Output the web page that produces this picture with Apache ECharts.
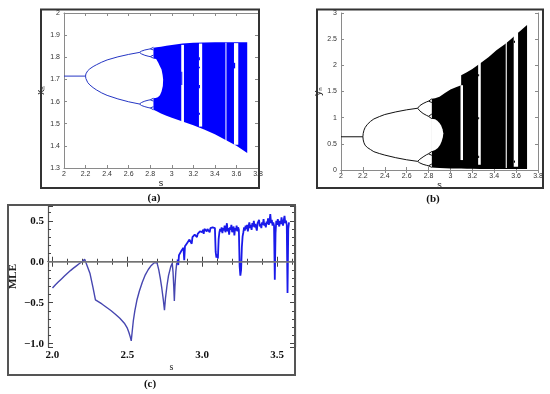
<!DOCTYPE html>
<html><head><meta charset="utf-8">
<script src="https://cdn.jsdelivr.net/npm/echarts@6/dist/echarts.min.js"></script>
<style>html,body{margin:0;padding:0;background:#fff}#c{width:550px;height:394px}</style>
</head><body><div id="c"></div>
<script>
// ---------- Panel (a): x_n bifurcation ----------
const aP1S = [2.0, 2.2], aP1Y = [1.715, 1.715];
const aP2S = [2.2, 2.203, 2.21, 2.22, 2.24, 2.27, 2.3, 2.35, 2.4, 2.5, 2.6, 2.7];
const aP2Up = [1.715, 1.725, 1.732, 1.739, 1.748, 1.758, 1.766, 1.778, 1.788, 1.802, 1.813, 1.822];
const aP2Lo = [1.715, 1.704, 1.695, 1.686, 1.675, 1.663, 1.653, 1.639, 1.628, 1.612, 1.599, 1.589];
const aP4S = [2.70, 2.72, 2.75, 2.78, 2.80];
const aP4 = [
  [1.822, 1.828, 1.833, 1.836, 1.838],
  [1.822, 1.815, 1.809, 1.805, 1.803],
  [1.589, 1.596, 1.602, 1.606, 1.608],
  [1.589, 1.582, 1.577, 1.573, 1.571]
];
const aP8S = [2.80, 2.815, 2.83];
const aP8 = [
  [1.838, 1.842, 1.845], [1.838, 1.835, 1.833], [1.803, 1.807, 1.810], [1.803, 1.799, 1.796],
  [1.608, 1.612, 1.615], [1.608, 1.604, 1.602], [1.571, 1.574, 1.577], [1.571, 1.567, 1.563]
];
const aBandS = [2.83, 2.86, 2.9, 2.95, 3.0, 3.1, 3.2, 3.3, 3.4, 3.5, 3.6, 3.7];
const aBandHi = [1.843, 1.845, 1.848, 1.852, 1.856, 1.862, 1.866, 1.867, 1.868, 1.868, 1.868, 1.868];
const aBandLo = [1.563, 1.556, 1.546, 1.536, 1.527, 1.51, 1.493, 1.474, 1.452, 1.427, 1.40, 1.368];
const aHoleS = [2.824, 2.855, 2.875, 2.89, 2.905, 2.915, 2.92, 2.917, 2.905, 2.89, 2.87, 2.85, 2.824];
const aHoleY = [1.795, 1.792, 1.775, 1.76, 1.745, 1.72, 1.70, 1.67, 1.645, 1.628, 1.62, 1.616, 1.615];
const aWinS0 = [3.088, 3.252, 3.498, 3.577];
const aWinS1 = [3.113, 3.282, 3.506, 3.617];
const aWinLo = [1.50, 1.487, 1.41, 1.405];
const aWinHi = [1.856, 1.862, 1.866, 1.864];
const aDotS0 = [3.088, 3.252, 3.252, 3.252, 3.252, 3.577];
const aDotS1 = [3.097, 3.26, 3.26, 3.26, 3.26, 3.588];
const aDotLo = [1.675, 1.787, 1.75, 1.66, 1.54, 1.75];
const aDotHi = [1.735, 1.80, 1.757, 1.675, 1.55, 1.775];

// ---------- Panel (b): y_n bifurcation ----------
const bP1S = [2.0, 2.2], bP1Y = [0.635, 0.635];
const bP2S = [2.2, 2.203, 2.21, 2.22, 2.24, 2.27, 2.3, 2.35, 2.4, 2.5, 2.6, 2.7];
const bP2Up = [0.635, 0.70, 0.76, 0.81, 0.87, 0.93, 0.975, 1.02, 1.06, 1.11, 1.15, 1.18];
const bP2Lo = [0.635, 0.575, 0.52, 0.475, 0.43, 0.39, 0.35, 0.315, 0.285, 0.235, 0.195, 0.165];
const bP4S = [2.70, 2.72, 2.75, 2.78, 2.80];
const bP4 = [
  [1.18, 1.23, 1.27, 1.30, 1.315],
  [1.18, 1.13, 1.08, 1.045, 1.025],
  [0.165, 0.205, 0.25, 0.29, 0.31],
  [0.165, 0.135, 0.108, 0.09, 0.08]
];
const bP8S = [2.80, 2.815, 2.83];
const bP8 = [
  [1.315, 1.34, 1.36], [1.315, 1.30, 1.29], [1.025, 1.05, 1.07], [1.025, 1.0, 0.98],
  [0.31, 0.335, 0.355], [0.31, 0.29, 0.28], [0.08, 0.10, 0.115], [0.08, 0.065, 0.05]
];
const bBandS = [2.83, 2.86, 2.9, 2.95, 3.0, 3.05, 3.098, 3.098, 3.15, 3.2, 3.27, 3.35, 3.42, 3.5, 3.557, 3.6, 3.65, 3.7];
const bBandHi = [1.36, 1.37, 1.40, 1.47, 1.54, 1.58, 1.62, 1.81, 1.87, 1.93, 2.035, 2.16, 2.29, 2.41, 2.51, 2.59, 2.68, 2.77];
const bBandLo = [0.05, 0.045, 0.04, 0.035, 0.03, 0.03, 0.03, 0.03, 0.025, 0.025, 0.02, 0.02, 0.02, 0.02, 0.02, 0.02, 0.02, 0.02];
const bHoleS = [2.824, 2.86, 2.88, 2.9, 2.915, 2.928, 2.935, 2.93, 2.92, 2.905, 2.885, 2.86, 2.824];
const bHoleY = [0.98, 0.97, 0.94, 0.90, 0.85, 0.78, 0.70, 0.62, 0.55, 0.48, 0.42, 0.38, 0.355];
const bWinS0 = [3.092, 3.253, 3.505, 3.578];
const bWinS1 = [3.115, 3.277, 3.515, 3.618];
const bWinLo = [0.19, 0.10, 0.04, 0.06];
const bWinHi = [1.62, 2.06, 2.45, 2.62];
const bDotS0 = [3.253, 3.253, 3.253, 3.58, 3.58];
const bDotS1 = [3.262, 3.262, 3.262, 3.59, 3.59];
const bDotLo = [1.79, 0.97, 0.23, 2.43, 0.14];
const bDotHi = [1.83, 1.01, 0.27, 2.47, 0.18];

// ---------- Panel (c): MLE ----------
const cSmoothS = [2.0, 2.02, 2.04, 2.06, 2.08, 2.1, 2.12, 2.14, 2.16, 2.18, 2.2, 2.215, 2.228, 2.25, 2.27, 2.287, 2.3, 2.33, 2.36, 2.39, 2.42, 2.45, 2.48, 2.5, 2.51, 2.52, 2.526, 2.532, 2.54, 2.55, 2.565, 2.58, 2.6, 2.62, 2.64, 2.66, 2.68, 2.698, 2.71, 2.72, 2.73, 2.74, 2.748, 2.755, 2.765, 2.775, 2.79, 2.80, 2.805, 2.81, 2.814, 2.818, 2.824, 2.83];
const cSmoothV = [-0.32, -0.28, -0.245, -0.21, -0.175, -0.14, -0.108, -0.078, -0.05, -0.022, 0.005, 0.03, 0.045, -0.14, -0.31, -0.465, -0.48, -0.515, -0.555, -0.595, -0.64, -0.69, -0.75, -0.81, -0.86, -0.92, -0.965, -0.86, -0.72, -0.6, -0.46, -0.36, -0.25, -0.16, -0.095, -0.045, -0.012, -0.01, -0.1, -0.2, -0.32, -0.46, -0.59, -0.44, -0.29, -0.17, -0.06, -0.02, -0.12, -0.3, -0.48, -0.3, -0.12, -0.01];
const cChaosS = [2.835, 2.84, 2.845, 2.85, 2.855, 2.86, 2.865, 2.87, 2.875, 2.88, 2.885, 2.89, 2.895, 2.9, 2.905, 2.91, 2.915, 2.92, 2.925, 2.93, 2.935, 2.94, 2.945, 2.95, 2.955, 2.96, 2.965, 2.97, 2.975, 2.98, 2.985, 2.99, 2.995, 3.0, 3.005, 3.01, 3.015, 3.02, 3.025, 3.03, 3.035, 3.04, 3.045, 3.05, 3.055, 3.06, 3.065, 3.07, 3.075, 3.08, 3.085, 3.09, 3.095, 3.1, 3.105, 3.11, 3.115, 3.12, 3.125, 3.13, 3.135, 3.14, 3.145, 3.15, 3.155, 3.16, 3.165, 3.17, 3.175, 3.18, 3.185, 3.19, 3.195, 3.2, 3.205, 3.21, 3.215, 3.22, 3.225, 3.23, 3.235, 3.24, 3.245, 3.25, 3.255, 3.26, 3.265, 3.27, 3.275, 3.28, 3.285, 3.29, 3.295, 3.3, 3.305, 3.31, 3.315, 3.32, 3.325, 3.33, 3.335, 3.34, 3.345, 3.35, 3.355, 3.36, 3.365, 3.37, 3.375, 3.38, 3.385, 3.39, 3.395, 3.4, 3.405, 3.41, 3.415, 3.42, 3.425, 3.43, 3.435, 3.44, 3.445, 3.45, 3.455, 3.46, 3.465, 3.47, 3.475, 3.48, 3.485, 3.49, 3.495, 3.5, 3.505, 3.51, 3.515, 3.52, 3.525, 3.53, 3.535, 3.54, 3.545, 3.55, 3.555, 3.56, 3.565, 3.57, 3.575, 3.58];
const cChaosV = [0.03, -0.04, 0.08, 0.10, 0.06, 0.13, 0.15, 0.12, 0.17, 0.02, 0.19, 0.21, 0.18, 0.23, 0.24, 0.21, 0.27, 0.26, 0.29, 0.22, 0.30, 0.31, 0.28, 0.33, 0.32, 0.35, 0.30, 0.34, 0.36, 0.33, 0.37, 0.35, 0.38, 0.36, 0.39, 0.34, 0.40, 0.38, 0.41, 0.37, 0.40, 0.39, 0.42, 0.36, 0.41, 0.43, 0.39, 0.42, 0.40, 0.44, 0.41, 0.12, 0.05, 0.09, 0.04, 0.28, 0.36, 0.40, 0.37, 0.42, 0.35, 0.41, 0.38, 0.44, 0.36, 0.40, 0.47, 0.37, 0.41, 0.33, 0.42, 0.39, 0.45, 0.36, 0.40, 0.43, 0.32, 0.41, 0.38, 0.44, 0.37, 0.42, 0.39, -0.05, -0.17, -0.10, 0.18, 0.31, 0.36, 0.42, 0.38, 0.44, 0.40, 0.45, 0.37, 0.43, 0.48, 0.41, 0.45, 0.39, 0.47, 0.43, 0.50, 0.42, 0.46, 0.44, 0.38, 0.47, 0.45, 0.51, 0.43, 0.46, 0.41, 0.48, 0.45, 0.52, 0.44, 0.47, 0.42, 0.49, 0.46, 0.53, 0.45, 0.50, 0.58, 0.47, 0.51, 0.44, 0.48, 0.44, -0.22, 0.35, 0.50, 0.45, 0.52, 0.47, 0.43, 0.50, 0.46, 0.54, 0.48, 0.44, 0.51, 0.56, 0.47, 0.50, 0.45, -0.38, 0.40, 0.48];

// ---------- helpers ----------
const zip = (xs, ys) => xs.map((x, i) => [x, ys[i]]);
function lineS(ai, s, y, color, w, z) {
  return { type: 'line', xAxisIndex: ai, yAxisIndex: ai, data: zip(s, y), showSymbol: false, symbol: 'none',
    lineStyle: { color: color, width: w }, silent: true, animation: false, z: z || 6 };
}
function bandS(ai, s, hi, lo, color) {
  return { type: 'custom', xAxisIndex: ai, yAxisIndex: ai, data: [[s[0], hi[0]]], silent: true, animation: false, z: 2,
    renderItem: function (p, api) {
      const pts = [];
      for (let i = 0; i < s.length; i++) pts.push(api.coord([s[i], hi[i]]));
      for (let i = s.length - 1; i >= 0; i--) pts.push(api.coord([s[i], lo[i]]));
      return { type: 'polygon', shape: { points: pts }, style: { fill: color } };
    } };
}
function polyS(ai, s, y, color) {
  return { type: 'custom', xAxisIndex: ai, yAxisIndex: ai, data: [[s[0], y[0]]], silent: true, animation: false, z: 3,
    renderItem: function (p, api) {
      const pts = s.map((v, i) => api.coord([v, y[i]]));
      return { type: 'polygon', shape: { points: pts }, style: { fill: color } };
    } };
}
function rectS(ai, s0, s1, lo, hi, color, z) {
  return { type: 'custom', xAxisIndex: ai, yAxisIndex: ai, silent: true, animation: false, z: z,
    data: s0.map((v, i) => [v, s1[i], lo[i], hi[i]]), encode: { x: [0, 1], y: [2, 3] },
    renderItem: function (p, api) {
      const a = api.coord([api.value(0), api.value(3)]);
      const b = api.coord([api.value(1), api.value(2)]);
      return { type: 'rect', shape: { x: a[0], y: a[1], width: Math.max(b[0] - a[0], 1), height: b[1] - a[1] }, style: { fill: color } };
    } };
}

// ---------- axes ----------
const tinyLbl = { fontSize: 7, color: '#333', fontFamily: 'Liberation Sans' };
const mLine = { show: true, lineStyle: { color: '#8a8a8a', width: 1 } };
const mTick = { show: true, inside: true, length: 3, lineStyle: { color: '#8a8a8a' } };
function mX(grid, pos, withLabel) {
  const o = { type: 'value', gridIndex: grid, position: pos, min: 2, max: 3.8, interval: 0.2,
    axisLine: mLine, axisTick: mTick, splitLine: { show: false },
    axisLabel: Object.assign({ show: withLabel, margin: 3 }, tinyLbl) };
  if (withLabel) { o.name = 's'; o.nameLocation = 'middle'; o.nameGap = 10;
    o.nameTextStyle = { fontSize: 9, color: '#222', fontFamily: 'Liberation Sans' }; }
  return o;
}
function mY(grid, pos, withLabel, mn, mx, iv, nm) {
  const o = { type: 'value', gridIndex: grid, position: pos, min: mn, max: mx, interval: iv,
    axisLine: mLine, axisTick: mTick, splitLine: { show: false },
    axisLabel: Object.assign({ show: withLabel, margin: 4 }, tinyLbl) };
  if (withLabel) { o.name = '{v|' + nm + '}{n|n}'; o.nameLocation = 'middle'; o.nameGap = 13; o.nameRotate = 90;
    o.nameTextStyle = { rich: {
      v: { fontSize: 10, color: '#222', fontFamily: 'Liberation Sans', verticalAlign: 'bottom', lineHeight: 12 },
      n: { fontSize: 6, color: '#222', fontFamily: 'Liberation Sans', verticalAlign: 'bottom', lineHeight: 8 } } }; }
  return o;
}
const isHalf = v => Math.abs(v * 2 - Math.round(v * 2)) < 1e-6;
const fmtC = v => isHalf(v) ? v.toFixed(1).replace('-', '\u2212') : '';
const cLbl = { fontFamily: 'Liberation Serif', fontWeight: 'bold', fontSize: 11, color: '#111' };
function cX(pos, withLabel) {
  const o = { type: 'value', gridIndex: 2, position: pos, min: 1.97, max: 3.62, splitNumber: 3, minInterval: 0.5, maxInterval: 0.5,
    axisLine: { show: true, lineStyle: { color: '#555', width: 1.2 } },
    axisTick: { show: true, inside: true, length: 5, lineStyle: { color: '#444' } },
    minorTick: { show: true, splitNumber: 5, length: 3, lineStyle: { color: '#444' } },
    splitLine: { show: false },
    axisLabel: Object.assign({ show: withLabel, margin: 3, formatter: fmtC }, cLbl) };
  if (withLabel) { o.name = 's'; o.nameLocation = 'middle'; o.nameGap = 15;
    o.nameTextStyle = { fontFamily: 'Liberation Serif', fontSize: 10, color: '#222' }; }
  return o;
}
function cY(pos, withLabel) {
  const o = { type: 'value', gridIndex: 2, position: pos, min: -1.04, max: 0.68, splitNumber: 3, minInterval: 0.5, maxInterval: 0.5,
    axisLine: { show: true, lineStyle: { color: '#555', width: 1.2 } },
    axisTick: { show: true, inside: true, length: 5, lineStyle: { color: '#444' } },
    minorTick: { show: true, splitNumber: 5, length: 3, lineStyle: { color: '#444' } },
    splitLine: { show: false },
    axisLabel: Object.assign({ show: withLabel, margin: 4, formatter: fmtC }, cLbl) };
  if (withLabel) { o.name = 'MLE'; o.nameLocation = 'middle'; o.nameGap = 29; o.nameRotate = 90;
    o.nameTextStyle = { fontFamily: 'Liberation Serif', fontWeight: 'bold', fontSize: 11, color: '#222' }; }
  return o;
}

// ---------- series ----------
const blueLine = '#2536c4', blackLine = '#111';
const series = [];
// (a)
series.push(bandS(0, aBandS, aBandHi, aBandLo, '#0000ff'));
series.push(polyS(0, aHoleS, aHoleY, '#ffffff'));
series.push(rectS(0, aWinS0, aWinS1, aWinLo, aWinHi, '#ffffff', 4));
series.push(rectS(0, aDotS0, aDotS1, aDotLo, aDotHi, '#0000ff', 5));
series.push(lineS(0, aP1S, aP1Y, blueLine, 1));
series.push(lineS(0, aP2S, aP2Up, blueLine, 1));
series.push(lineS(0, aP2S, aP2Lo, blueLine, 1));
aP4.forEach(y => series.push(lineS(0, aP4S, y, blueLine, 1)));
aP8.forEach(y => series.push(lineS(0, aP8S, y, blueLine, 1)));
// (b)
series.push(bandS(2, bBandS, bBandHi, bBandLo, '#000000'));
series.push(polyS(2, bHoleS, bHoleY, '#ffffff'));
series.push(rectS(2, bWinS0, bWinS1, bWinLo, bWinHi, '#ffffff', 4));
series.push(rectS(2, bDotS0, bDotS1, bDotLo, bDotHi, '#000000', 5));
series.push(lineS(2, bP1S, bP1Y, blackLine, 1));
series.push(lineS(2, bP2S, bP2Up, blackLine, 1));
series.push(lineS(2, bP2S, bP2Lo, blackLine, 1));
bP4.forEach(y => series.push(lineS(2, bP4S, y, blackLine, 1)));
bP8.forEach(y => series.push(lineS(2, bP8S, y, blackLine, 1)));
// (c)
const smooth = lineS(4, cSmoothS, cSmoothV, '#4646b0', 1.4, 3);
smooth.markLine = { silent: true, symbol: ['none', 'none'], label: { show: false }, animation: false,
  lineStyle: { color: '#7c7c7c', width: 1.6, type: 'solid' }, data: [{ yAxis: 0 }] };
series.push(smooth);
series.push(lineS(4, cChaosS, cChaosV, '#1a1aea', 1.8, 4));

const capStyle = { fontFamily: 'Liberation Serif', fontWeight: 'bold', fontSize: 11, fill: '#111', align: 'center', verticalAlign: 'middle' };
const option = {
  animation: false,
  backgroundColor: '#ffffff',
  grid: [
    { left: 64, top: 13, right: 292, bottom: 226 },
    { left: 341, top: 13, right: 12, bottom: 224 },
    { left: 48, top: 206, right: 255, bottom: 47 }
  ],
  xAxis: [mX(0, 'bottom', true), mX(0, 'top', false), mX(1, 'bottom', true), mX(1, 'top', false), cX('bottom', true), cX('top', false)],
  yAxis: [mY(0, 'left', true, 1.3, 2, 0.1, 'x'), mY(0, 'right', false, 1.3, 2, 0.1, 'x'),
          mY(1, 'left', true, 0, 3, 0.5, 'y'), mY(1, 'right', false, 0, 3, 0.5, 'y'),
          cY('left', true), cY('right', false)],
  series: series,
  graphic: [
    { type: 'rect', silent: true, z: 100, shape: { x: 41, y: 9.5, width: 218, height: 178.5 }, style: { fill: null, stroke: '#333', lineWidth: 2 } },
    { type: 'rect', silent: true, z: 100, shape: { x: 317, y: 9.5, width: 226, height: 178.5 }, style: { fill: null, stroke: '#333', lineWidth: 2 } },
    { type: 'rect', silent: true, z: 100, shape: { x: 8, y: 205, width: 287, height: 170 }, style: { fill: null, stroke: '#555', lineWidth: 2 } },
    { type: 'text', silent: true, x: 154, y: 198, style: Object.assign({ text: '(a)' }, capStyle) },
    { type: 'text', silent: true, x: 433, y: 199, style: Object.assign({ text: '(b)' }, capStyle) },
    { type: 'text', silent: true, x: 150, y: 384, style: Object.assign({ text: '(c)' }, capStyle) }
  ]
};
const chart = echarts.init(document.getElementById('c'), null, { renderer: 'canvas' });
chart.setOption(option);
</script></body></html>
